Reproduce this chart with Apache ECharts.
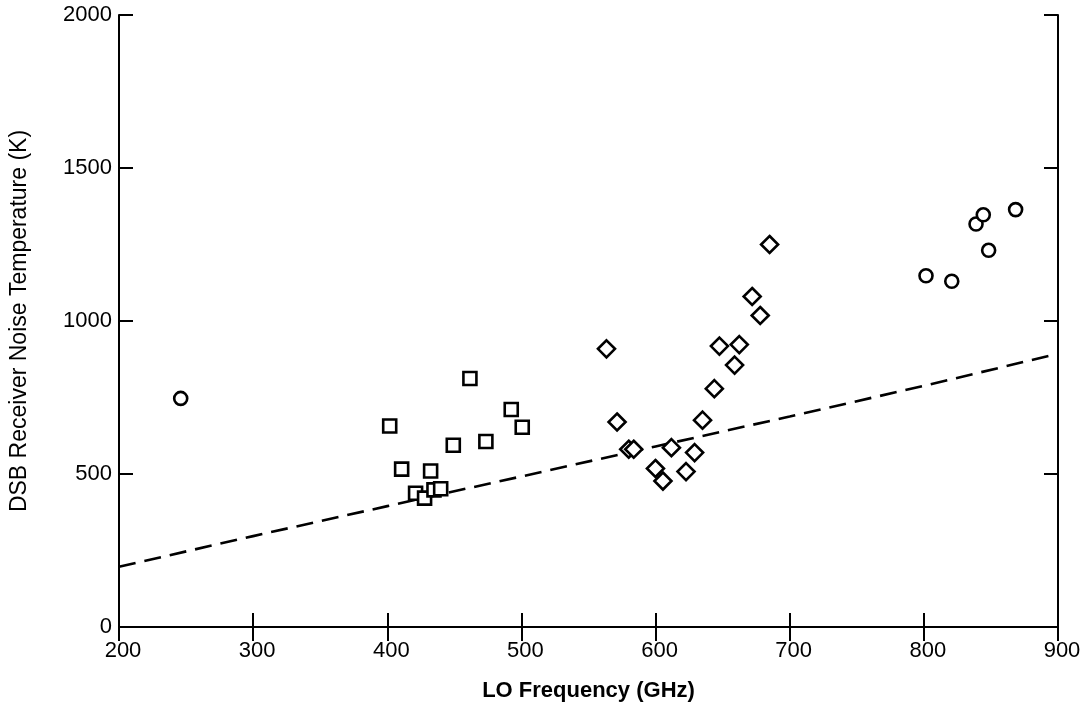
<!DOCTYPE html>
<html><head><meta charset="utf-8">
<script src="https://cdn.jsdelivr.net/npm/echarts@6/dist/echarts.min.js"></script>
<style>html,body{margin:0;padding:0;background:#fff}#c{width:1091px;height:707px}</style>
</head><body><div id="c"></div>
<script>
// Data
const circleData = [[246,747],[801.6,1148],[820.8,1130],[838.9,1317],[844.3,1347],[848.3,1231],[868.4,1364]];
const squareData = [[401.8,657],[410.7,516],[421.1,437],[427.8,421],[432.3,510],[434.8,448],[439.8,452],[449.2,594],[461.6,812],[473.5,606],[492.4,711],[500.6,653]];
const diamondData = [[563.4,909],[571.3,670],[580,581],[583.7,581],[599.9,518],[605.5,477],[611.8,586],[622.7,508],[629.1,570],[635,676],[643.8,779],[647.6,918],[658.9,856],[662.4,923],[672,1080],[678,1018],[685,1250]];
const lineData = [[200,197],[300,297],[400,395],[500,492],[600,590],[700,688],[800,788],[900,893]];
const xTicks = [200,300,400,500,600,700,800,900];
const yTicks = [0,500,1000,1500,2000];

const font = 'Liberation Sans, Arial, sans-serif';
const axLine = {show:true, lineStyle:{color:'#000', width:2}};
const tick = {show:true, inside:true, length:14, lineStyle:{color:'#000', width:2}};
const mk = (sym, size) => ({type:'scatter', symbol:sym, symbolSize:size,
  itemStyle:{color:'#fff', borderColor:'#000', borderWidth:2.6, opacity:1}, z:3});
const chart = echarts.init(document.getElementById('c'));
chart.setOption({
  animation:false,
  backgroundColor:'#fff',
  grid:{left:118, right:33, top:15, bottom:79, containLabel:false},
  xAxis:[
    {type:'value', min:200, max:900, interval:100, position:'bottom',
     axisLine:axLine, axisTick:tick, splitLine:{show:false},
     axisLabel:{color:'#000', fontSize:22, fontFamily:font, margin:13, padding:[0,0,0,8],
       formatter:v => xTicks.includes(v) ? String(v) : ''},
     name:'LO Frequency (GHz)', nameLocation:'middle', nameGap:53,
     nameTextStyle:{color:'#000', fontSize:22, fontWeight:'bold', fontFamily:font}},
    {type:'value', min:200, max:900, interval:100, position:'top',
     axisLine:axLine, axisTick:tick, splitLine:{show:false}, axisLabel:{show:false}}
  ],
  yAxis:[
    {type:'value', min:0, max:2000, interval:500, position:'left',
     axisLine:axLine, axisTick:tick, splitLine:{show:false},
     axisLabel:{color:'#000', fontSize:22, fontFamily:font, margin:7,
       formatter:v => yTicks.includes(v) ? String(v) : ''},
     name:'DSB Receiver Noise Temperature (K)', nameLocation:'middle', nameGap:88,
     nameTextStyle:{color:'#000', fontSize:23, fontFamily:font}},
    {type:'value', min:0, max:2000, interval:500, position:'right',
     axisLine:axLine, axisTick:tick, splitLine:{show:false}, axisLabel:{show:false}}
  ],
  series:[
    {type:'line', data:lineData, symbol:'none', lineStyle:{color:'#000', width:2.6, type:[17,9]}, z:2},
    Object.assign(mk('circle',13), {data:circleData}),
    Object.assign(mk('rect',13), {data:squareData}),
    Object.assign(mk('diamond',17), {data:diamondData})
  ]
});
</script></body></html>
